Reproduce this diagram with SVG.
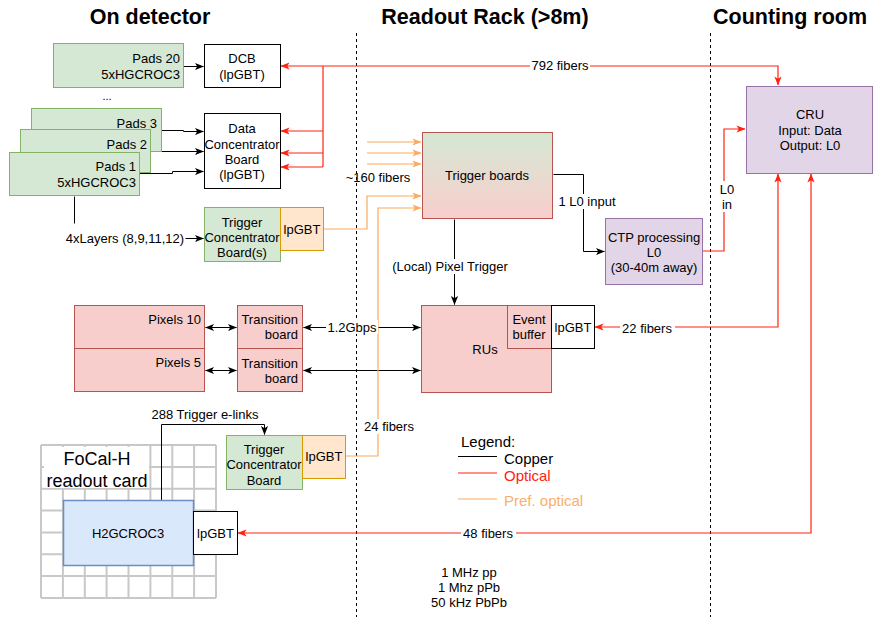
<svg xmlns="http://www.w3.org/2000/svg" width="874" height="617" viewBox="0 0 874 617">
  <defs>
    <style>
      text { font-family: "Liberation Sans", Arial, Helvetica, sans-serif; font-size: 13px; fill: #000; dominant-baseline: central; }
      .title { font-size: 21.5px; font-weight: bold; text-anchor: middle; }
      .c { text-anchor: middle; }
      .r { text-anchor: end; }
      .green { fill: #d5e8d4; stroke: #82b366; stroke-width: 1; }
      .orange { fill: #ffe6cc; stroke: #d79b00; stroke-width: 1; }
      .red { fill: #f8cecc; stroke: #b85450; stroke-width: 1; }
      .purple { fill: #e1d5e7; stroke: #9673a6; stroke-width: 1; }
      .blue { fill: #dae8fc; stroke: #6c8ebf; stroke-width: 1.5; }
      .plain { fill: #fff; stroke: #000; stroke-width: 1; }
      .divider { stroke: #000; stroke-width: 1; stroke-dasharray: 3 3; fill: none; }
      .cu { stroke: #000; stroke-width: 1; fill: none; }
      .opt { stroke: #f21; stroke-width: 1.2; fill: none; }
      .pref { stroke: #fbaa5e; stroke-width: 1.2; fill: none; }
      .grid { stroke: #c8c8c8; stroke-width: 2; fill: none; }
      .bg { fill: #fff; }
    </style>
    <marker id="arrK" viewBox="0 0 10 10" refX="9.5" refY="5" markerWidth="9" markerHeight="9" markerUnits="userSpaceOnUse" orient="auto-start-reverse">
      <path d="M0,1 L10,5 L0,9 L2.5,5 Z" fill="#000"/>
    </marker>
    <marker id="arrR" viewBox="0 0 10 10" refX="9.5" refY="5" markerWidth="9" markerHeight="9" markerUnits="userSpaceOnUse" orient="auto-start-reverse">
      <path d="M0,1 L10,5 L0,9 L2.5,5 Z" fill="#f21"/>
    </marker>
    <marker id="arrO" viewBox="0 0 10 10" refX="9.5" refY="5" markerWidth="9" markerHeight="9" markerUnits="userSpaceOnUse" orient="auto-start-reverse">
      <path d="M0,1 L10,5 L0,9 L2.5,5 Z" fill="#fbaa5e"/>
    </marker>
    <linearGradient id="trigFill" x1="0" y1="0" x2="0" y2="1">
      <stop offset="0" stop-color="#d5e8d4"/>
      <stop offset="1" stop-color="#f8cecc"/>
    </linearGradient>
  </defs>

  <rect width="874" height="617" fill="#fff"/>

  <!-- section headings and dividers -->
  <g id="sections">
    <text class="title" x="150" y="17">On detector</text>
    <text class="title" x="485" y="17">Readout Rack (&gt;8m)</text>
    <text class="title" x="790" y="17">Counting room</text>
    <line class="divider" x1="356.5" y1="33" x2="356.5" y2="617"/>
    <line class="divider" x1="710.5" y1="33" x2="710.5" y2="617"/>
  </g>

  <!-- FoCal-H readout card grid -->
  <g id="readout-card">
    <path class="grid" d="M41,445 H216 M41,466.9 H216 M41,488.7 H216 M41,510.6 H216 M41,532.4 H216 M41,554.3 H216 M41,576.1 H216 M41,598 H216
      M41,445 V598 M62.9,445 V598 M84.8,445 V598 M106.6,445 V598 M128.5,445 V598 M150.4,445 V598 M172.3,445 V598 M194.1,445 V598 M216,445 V598"/>
    <rect class="bg" x="44" y="447" width="105" height="41"/>
    <text class="c" x="97" y="459" style="font-size:18px">FoCal-H</text>
    <text class="c" x="97" y="481" style="font-size:18px">readout card</text>
  </g>

  <!-- connectors -->
  <g id="connectors">
    <!-- copper -->
    <g transform="translate(0.5,0.5)">
      <path class="cu" d="M183,66 H203" marker-end="url(#arrK)"/>
      <path class="cu" d="M161,130 H183 V131 H203" marker-end="url(#arrK)"/>
      <path class="cu" d="M150,151 H203" marker-end="url(#arrK)"/>
      <path class="cu" d="M139,173 H172 V171 H203" marker-end="url(#arrK)"/>
      <path class="cu" d="M74,196 V223"/>
      <path class="cu" d="M185,238 H203" marker-end="url(#arrK)"/>
      <path class="cu" d="M205,327 H236" marker-start="url(#arrK)" marker-end="url(#arrK)"/>
      <path class="cu" d="M205,370 H236" marker-start="url(#arrK)" marker-end="url(#arrK)"/>
      <path class="cu" d="M303,327 H420" marker-start="url(#arrK)" marker-end="url(#arrK)"/>
      <path class="cu" d="M303,370 H420" marker-start="url(#arrK)" marker-end="url(#arrK)"/>
      <path class="cu" d="M454,219 V304" marker-end="url(#arrK)"/>
      <path class="cu" d="M553,174 H583 V251 H604" marker-end="url(#arrK)"/>
      <path class="cu" d="M161,500 V424 H264 V434" marker-end="url(#arrK)"/>
    </g>

    <!-- optical -->
    <path class="opt" d="M323,66 H778 V85" marker-end="url(#arrR)"/>
    <path class="opt" d="M323,66 H281" marker-end="url(#arrR)"/>
    <path class="opt" d="M323,66 V167"/>
    <path class="opt" d="M323,131 H281" marker-end="url(#arrR)"/>
    <path class="opt" d="M323,153 H281" marker-end="url(#arrR)"/>
    <path class="opt" d="M323,167 H281" marker-end="url(#arrR)"/>
    <path class="opt" d="M703,251 H724 V129 H745" marker-end="url(#arrR)"/>
    <path class="opt" d="M595,327 H778 V174" marker-start="url(#arrR)" marker-end="url(#arrR)"/>
    <path class="opt" d="M238,533 H811 V174" marker-start="url(#arrR)" marker-end="url(#arrR)"/>

    <!-- preferred optical -->
    <path class="pref" d="M367,142 H421" marker-end="url(#arrO)"/>
    <path class="pref" d="M367,153 H421" marker-end="url(#arrO)"/>
    <path class="pref" d="M367,164 H421" marker-end="url(#arrO)"/>
    <path class="pref" d="M324,229 H367 V196 H421" marker-end="url(#arrO)"/>
    <path class="pref" d="M346,456 H378 V208 H421" marker-end="url(#arrO)"/>

    <!-- connector labels -->
    <rect class="bg" x="530" y="58" width="60" height="15"/>
    <text class="c" x="560" y="65">792 fibers</text>
    <rect class="bg" x="326" y="320" width="52" height="14"/>
    <text class="c" x="352" y="327">1.2Gbps</text>
    <rect class="bg" x="393" y="259" width="114" height="15"/>
    <text class="c" x="450" y="266">(Local) Pixel Trigger</text>
    <rect class="bg" x="558" y="194" width="58" height="15"/>
    <text class="c" x="587" y="201">1 L0 input</text>
    <rect class="bg" x="718" y="181" width="18" height="31"/>
    <text class="c" x="727" y="189">L0</text>
    <text class="c" x="727" y="204">in</text>
    <rect class="bg" x="620" y="320" width="55" height="15"/>
    <text class="c" x="647" y="328">22 fibers</text>
    <rect class="bg" x="461" y="526" width="55" height="15"/>
    <text class="c" x="488" y="533">48 fibers</text>
    <rect class="bg" x="362" y="419" width="55" height="15"/>
    <text class="c" x="389" y="426">24 fibers</text>
    <text class="c" x="378" y="177">~160 fibers</text>
    <text class="c" x="205" y="414">288 Trigger e-links</text>
    <text class="c" x="125" y="238">4xLayers (8,9,11,12)</text>
  </g>

  <!-- on-detector boards -->
  <g id="pads20">
    <rect class="green" x="53.5" y="43.5" width="130" height="44"/>
    <text class="r" x="180" y="58">Pads 20</text>
    <text class="r" x="180" y="74">5xHGCROC3</text>
  </g>
  <g id="dcb">
    <rect class="plain" x="204.5" y="44.5" width="76" height="43"/>
    <text class="c" x="242" y="58">DCB</text>
    <text class="c" x="242" y="74">(lpGBT)</text>
  </g>
  <g id="ellipsis">
    <text class="c" x="107" y="96" style="font-size:11px">...</text>
  </g>
  <g id="pads3">
    <rect class="green" x="31.5" y="108.5" width="130" height="43"/>
    <text class="r" x="157" y="123">Pads 3</text>
  </g>
  <g id="pads2">
    <rect class="green" x="20.5" y="129.5" width="130" height="43"/>
    <text class="r" x="147" y="144">Pads 2</text>
  </g>
  <g id="pads1">
    <rect class="green" x="9.5" y="152.5" width="130" height="43"/>
    <text class="r" x="136" y="166">Pads 1</text>
    <text class="r" x="136" y="182">5xHGCROC3</text>
  </g>
  <g id="data-concentrator">
    <rect class="plain" x="204.5" y="113.5" width="76" height="75"/>
    <text class="c" x="242" y="128">Data</text>
    <text class="c" x="242" y="144">Concentrator</text>
    <text class="c" x="242" y="159">Board</text>
    <text class="c" x="242" y="174">(lpGBT)</text>
  </g>
  <g id="trigger-concentrator-pads">
    <rect class="green" x="204.5" y="207.5" width="76" height="54"/>
    <rect class="orange" x="280.5" y="207.5" width="43" height="43"/>
    <text class="c" x="242" y="222">Trigger</text>
    <text class="c" x="242" y="237">Concentrator</text>
    <text class="c" x="242" y="252">Board(s)</text>
    <text class="c" x="302" y="229">lpGBT</text>
  </g>
  <g id="pixels10">
    <rect class="red" x="74.5" y="305.5" width="130" height="43"/>
    <text class="r" x="201" y="319">Pixels 10</text>
  </g>
  <g id="pixels5">
    <rect class="red" x="74.5" y="348.5" width="130" height="43"/>
    <text class="r" x="201" y="362">Pixels 5</text>
  </g>
  <g id="transition1">
    <rect class="red" x="237.5" y="305.5" width="65" height="43"/>
    <text class="r" x="298" y="319">Transition</text>
    <text class="r" x="298" y="334">board</text>
  </g>
  <g id="transition2">
    <rect class="red" x="237.5" y="348.5" width="65" height="43"/>
    <text class="r" x="298" y="363">Transition</text>
    <text class="r" x="298" y="378">board</text>
  </g>
  <g id="trigger-concentrator-focal">
    <rect class="green" x="226.5" y="435.5" width="76" height="54"/>
    <rect class="orange" x="302.5" y="435.5" width="43" height="43"/>
    <text class="c" x="264" y="449">Trigger</text>
    <text class="c" x="264" y="464">Concentrator</text>
    <text class="c" x="264" y="480">Board</text>
    <text class="c" x="324" y="456">lpGBT</text>
  </g>
  <g id="h2gcroc3">
    <rect class="blue" x="63.5" y="500.5" width="130" height="65"/>
    <text class="c" x="128" y="533">H2GCROC3</text>
  </g>
  <g id="focal-lpgbt">
    <rect class="plain" x="193.5" y="511.5" width="44" height="43"/>
    <text class="c" x="215.5" y="533">lpGBT</text>
  </g>

  <!-- readout rack -->
  <g id="trigger-boards">
    <rect x="422.5" y="132.5" width="130" height="86" fill="url(#trigFill)" stroke="#b85450"/>
    <text class="c" x="487" y="175">Trigger boards</text>
  </g>
  <g id="rus">
    <rect class="red" x="421.5" y="305.5" width="130" height="87"/>
    <text class="c" x="485" y="349">RUs</text>
  </g>
  <g id="event-buffer">
    <rect class="red" x="507.5" y="305.5" width="44" height="43"/>
    <text class="c" x="529" y="319">Event</text>
    <text class="c" x="529" y="334">buffer</text>
  </g>
  <g id="ru-lpgbt">
    <rect class="plain" x="551.5" y="305.5" width="43" height="43"/>
    <text class="c" x="573" y="327">lpGBT</text>
  </g>
  <g id="ctp">
    <rect class="purple" x="605.5" y="218.5" width="97" height="66"/>
    <text class="c" x="654" y="237">CTP processing</text>
    <text class="c" x="654" y="252">L0</text>
    <text class="c" x="654" y="267">(30-40m away)</text>
  </g>

  <!-- counting room -->
  <g id="cru">
    <rect class="purple" x="746.5" y="86.5" width="126" height="87"/>
    <text class="c" x="810" y="114">CRU</text>
    <text class="c" x="810" y="130">Input: Data</text>
    <text class="c" x="810" y="145">Output: L0</text>
  </g>

  <!-- legend -->
  <g id="legend">
    <text x="461" y="441" style="font-size:15px">Legend:</text>
    <line x1="458" y1="456.5" x2="497" y2="456.5" stroke="#000"/>
    <text x="504" y="458" style="font-size:15px">Copper</text>
    <line x1="458" y1="473" x2="497" y2="473" stroke="#f21" stroke-width="1.2"/>
    <text x="504" y="475" style="font-size:15px; fill:#f21">Optical</text>
    <line x1="458" y1="499" x2="497" y2="499" stroke="#fbaa5e" stroke-width="1.2"/>
    <text x="504" y="500" style="font-size:15px; fill:#f9b06a">Pref. optical</text>
  </g>

  <!-- trigger rates -->
  <g id="rates">
    <text class="c" x="469" y="572">1 MHz pp</text>
    <text class="c" x="469" y="587">1 Mhz pPb</text>
    <text class="c" x="469" y="602">50 kHz PbPb</text>
  </g>
</svg>
